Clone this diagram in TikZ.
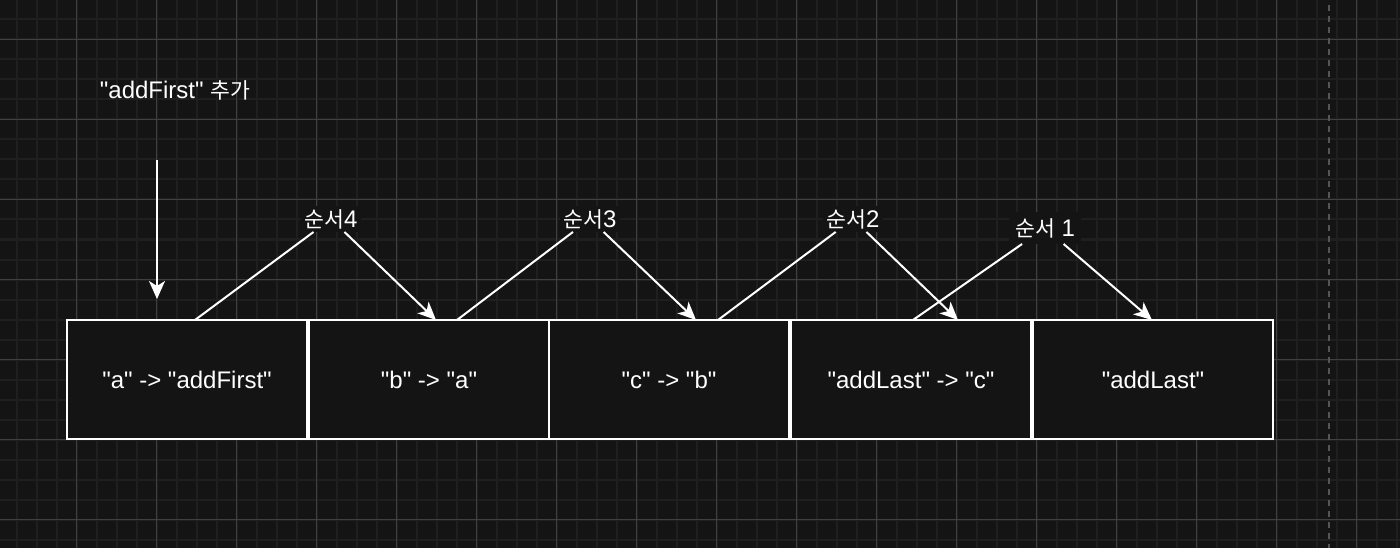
\documentclass[tikz,border=0pt]{standalone}
\usepackage{fontspec}
\setmainfont{Liberation Sans}[Ligatures=TeXOff]
\newfontfamily\kr{Noto Sans CJK KR}[Scale=0.9]
\usetikzlibrary{arrows.meta}
\definecolor{bg}{HTML}{141414}
\definecolor{gridminor}{HTML}{1f1f1f}
\definecolor{gridmajor}{HTML}{404040}
\definecolor{dashc}{HTML}{555555}
\begin{document}
\begin{tikzpicture}[x=1pt,y=-1pt,
  txt/.style={font=\fontsize{24}{28}\selectfont,text=white},
  cell/.style={txt,draw=white,line width=2pt,fill=bg,minimum width=240pt,minimum height=119pt,inner sep=0pt},
  lbl/.style={txt,fill=bg,inner sep=3pt},
  link/.style={white,line width=2pt},
  arr/.style={link,-{Stealth[length=18pt,width=16pt,inset=5pt]}},
  minorline/.style={gridminor,line width=2pt},
  majorline/.style={gridmajor,line width=1pt}]
\fill[bg] (0,0) rectangle (1400,548);
\useasboundingbox (0,0) rectangle (1400,548);
% grid
\foreach \i in {0,...,69} \draw[minorline] ({16.7+20*\i},0) -- ({16.7+20*\i},548);
\foreach \i in {0,...,27} \draw[minorline] (0,{19.5+20*\i}) -- (1400,{19.5+20*\i});
\foreach \i in {0,...,16} \draw[majorline] ({76.7+80*\i},0) -- ({76.7+80*\i},548);
\foreach \i in {0,...,6} \draw[majorline] (0,{39.3+80*\i}) -- (1400,{39.3+80*\i});
\draw[dashc,line width=2pt,dash pattern=on 6pt off 5pt] (1329,5) -- (1329,548);
% title
\node[txt] (title) at (175,90) {"addFirst" {\kr 추가}};
% cells
\node[cell] (c1) at (187,379.5) {"a" -> "addFirst"};
\node[cell] (c2) at (429,379.5) {"b" -> "a"};
\node[cell] (c3) at (669,379.5) {"c" -> "b"};
\node[cell] (c4) at (911,379.5) {"addLast" -> "c"};
\node[cell] (c5) at (1153,379.5) {"addLast"};
% labels
\node[lbl] (s4) at (331,219) {{\kr 순서}4};
\node[lbl] (s3) at (590,219) {{\kr 순서}3};
\node[lbl] (s2) at (853,219) {{\kr 순서}2};
\node[lbl,inner sep=6pt] (s1) at (1045,228) {{\kr 순서} 1};
% endpoints
\coordinate (v0) at (157,160);
\coordinate (v1) at (157,299);
\coordinate (p4a) at (195,320);
\coordinate (p4b) at (436,320);
\coordinate (p3a) at (457,320);
\coordinate (p3b) at (696,320);
\coordinate (p2a) at (718,320);
\coordinate (p2b) at (958,320);
\coordinate (p1a) at (913,320);
\coordinate (p1b) at (1152,320);
% connectors
\draw[arr] (v0) -- (v1);
\draw[link] (s4) -- (p4a);
\draw[arr] (s4) -- (p4b);
\draw[link] (s3) -- (p3a);
\draw[arr] (s3) -- (p3b);
\draw[link] (s2) -- (p2a);
\draw[arr] (s2) -- (p2b);
\draw[link] (s1) -- (p1a);
\draw[arr] (s1) -- (p1b);
\end{tikzpicture}
\end{document}
